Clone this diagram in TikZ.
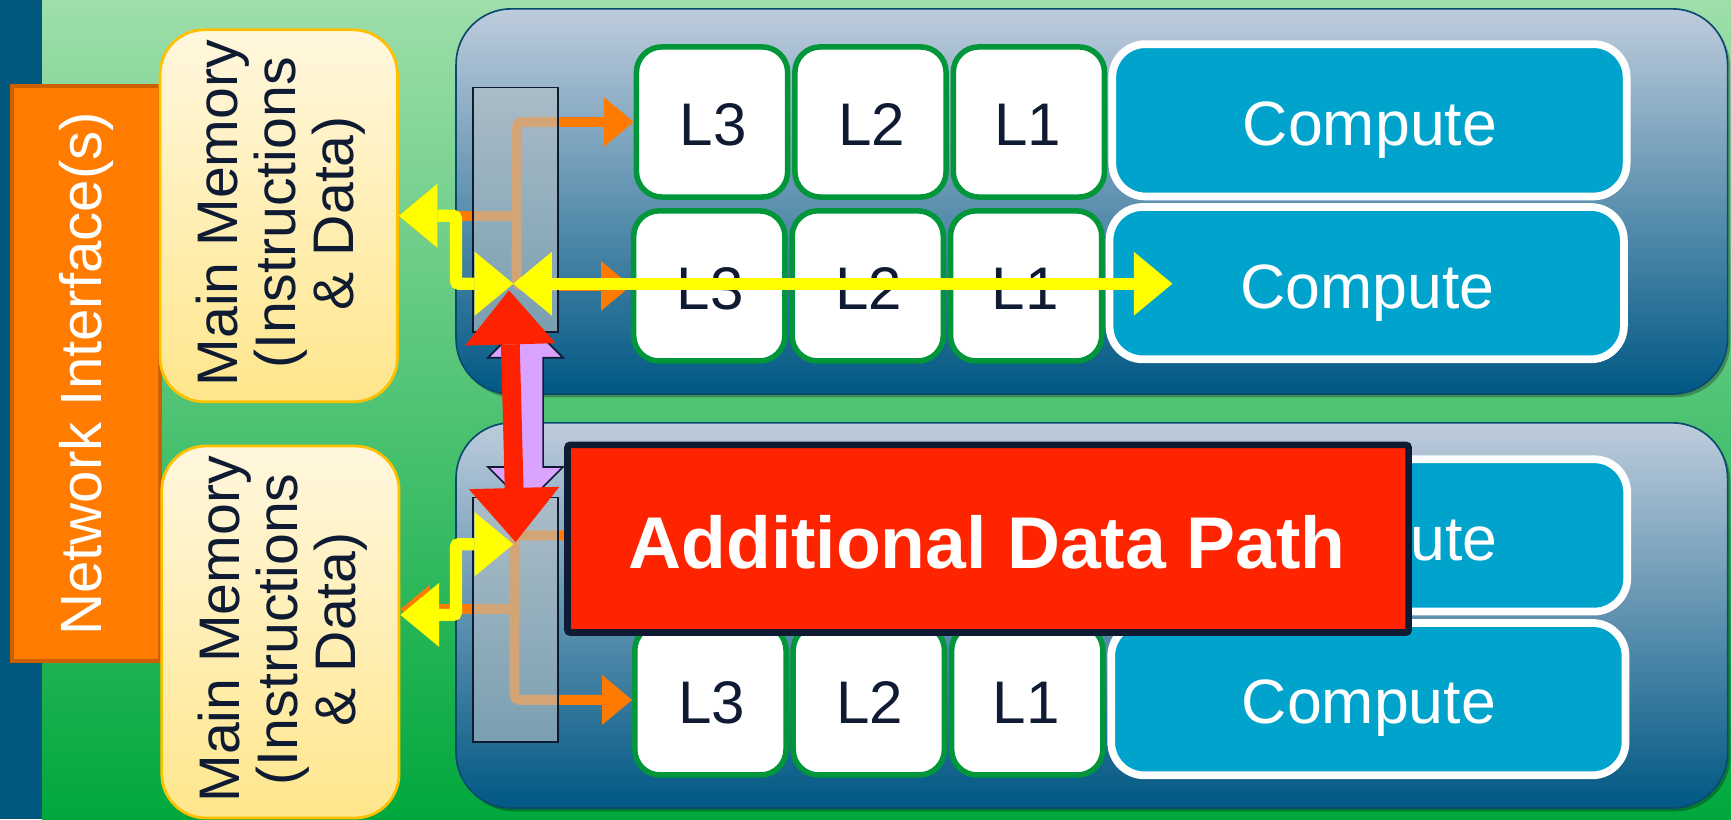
\documentclass[tikz,border=0pt]{standalone}
\usepackage{fontspec}
\setmainfont{Liberation Sans}
\usetikzlibrary{arrows.meta, shadows}

\definecolor{stripblue}{HTML}{02577F}
\definecolor{bgtop}{HTML}{9EDEAA}
\definecolor{bgbot}{HTML}{00A83C}
\definecolor{paneltop}{HTML}{BECCDC}
\definecolor{panelbot}{HTML}{005884}
\definecolor{panelline}{HTML}{0A4A70}
\definecolor{memtop}{HTML}{FFF7DE}
\definecolor{membot}{HTML}{FFE68C}
\definecolor{memline}{HTML}{FFC000}
\definecolor{nifill}{HTML}{FF7C00}
\definecolor{niline}{HTML}{CC5F00}
\definecolor{compfill}{HTML}{00A3CC}
\definecolor{cacheline}{HTML}{009639}
\definecolor{navy}{HTML}{0F1B33}
\definecolor{pathred}{HTML}{FF2400}
\definecolor{arrowred}{HTML}{FF2200}
\definecolor{lav}{HTML}{D9A3FF}
\definecolor{flow}{HTML}{FF7A00}
\definecolor{ylw}{HTML}{FFFF00}
\definecolor{barfill}{HTML}{B7C2C5}

\tikzset{
  Fh/.tip={Triangle[length=0.54cm,width=0.9cm,line width=0pt]},
  Yh/.tip={Triangle[length=0.7cm,width=1.16cm,line width=0pt]},
  Rh/.tip={Triangle[length=0.98cm,width=1.64cm,line width=0pt]},
  softshadow/.style={drop shadow={shadow xshift=0.05cm, shadow yshift=-0.06cm,
    opacity=0.28, fill=black}},
  panel/.style={draw=panelline, line width=0.03cm, rounded corners=1cm,
    top color=paneltop, bottom color=panelbot, softshadow,
    minimum width=23.04cm, minimum height=6.98cm, inner sep=0pt},
  membox/.style={draw=memline, line width=0.05cm, rounded corners=0.8cm,
    top color=memtop, bottom color=membot,
    minimum width=4.3cm, minimum height=6.74cm, inner sep=0pt},
  memtext/.style={rotate=90, align=center, text=navy, inner sep=0pt,
    font=\fontsize{29.5}{30}\selectfont},
  nibox/.style={draw=niline, line width=0.08cm, fill=nifill,
    minimum width=2.68cm, minimum height=10.42cm, inner sep=0pt},
  nitext/.style={rotate=90, text=white, inner sep=0pt,
    font=\fontsize{30}{30}\selectfont},
  cachebox/.style={draw=cacheline, line width=0.1cm, fill=white,
    rounded corners=0.46cm, minimum width=2.74cm, minimum height=2.72cm,
    inner sep=0pt},
  cachetext/.style={text=navy, inner sep=0pt, text depth=0pt,
    font=\fontsize{31}{31}\selectfont},
  compbox/.style={draw=white, line width=0.14cm, fill=compfill, softshadow,
    rounded corners=0.6cm, minimum width=9.32cm, minimum height=2.76cm,
    inner sep=0pt},
  comptext/.style={text=white, inner sep=0pt, text depth=0pt,
    font=\fontsize{32.3}{32}\selectfont},
  switchbar/.style={draw=navy, line width=0.03cm, fill=barfill,
    fill opacity=0.6, minimum width=1.55cm, minimum height=4.43cm,
    inner sep=0pt},
  flowline/.style={draw=flow, line width=0.18cm, rounded corners=0.1cm},
  yline/.style={draw=ylw, line width=0.22cm, rounded corners=0.05cm},
  rline/.style={draw=arrowred, line width=0.34cm},
  lavshape/.style={draw=navy, line width=0.03cm, fill=lav, line join=miter},
  pathbox/.style={draw=navy, line width=0.12cm, fill=pathred,
    rounded corners=0.05cm, minimum width=15.24cm, minimum height=3.4cm,
    inner sep=0pt},
  pathtext/.style={text=white, inner sep=0pt, text depth=0pt,
    font=\bfseries\fontsize{37.8}{38}\selectfont}
}

\begin{document}
\begin{tikzpicture}[x=0.02cm, y=-0.02cm]
\useasboundingbox (0,0) rectangle (1568,742);

% backdrop
\shade[top color=bgtop, bottom color=bgbot] (38,0) rectangle (1568,742);
\fill[stripblue] (0,0) rectangle (38,742);

% network interface and the two main memories
\node[nibox] (ni) at (78,338.5) {};
\node[nitext] (nit) at (ni.center) {Network Interface(s)};
\node[membox] (mem1) at (252.5,195.5) {};
\node[memtext] (mem1t) at (254,193) {Main Memory\\(Instructions\\\& Data)};
\node[membox] (mem2) at (254,572.5) {};
\node[memtext] (mem2t) at (256,570) {Main Memory\\(Instructions\\\& Data)};

% processor panels
\node[panel] (p1) at (989,182.5) {};
\node[panel] (p2) at (989,557.5) {};

% cache levels and cores, four rows
\node[cachebox] (a3) at (645,110.5) {};
\node[cachebox] (a2) at (788.5,110.5) {};
\node[cachebox] (a1) at (932,110.5) {};
\node[compbox]  (ac) at (1240.5,109) {};
\node[cachetext] (a3t) at (646,113) {L3};
\node[cachetext] (a2t) at (789.5,113) {L2};
\node[cachetext] (a1t) at (931,113) {L1};
\node[comptext]  (act) at (1241,112) {Compute};

\node[cachebox] (b3) at (642.5,259) {};
\node[cachebox] (b2) at (786,259) {};
\node[cachebox] (b1) at (929.5,259) {};
\node[compbox]  (bc) at (1238,256.5) {};
\node[cachetext] (b3t) at (643.5,261.5) {L3};
\node[cachetext] (b2t) at (787,261.5) {L2};
\node[cachetext] (b1t) at (928.5,261.5) {L1};
\node[comptext]  (bct) at (1238.5,259.5) {Compute};

\node[cachebox] (c3) at (643.5,485) {};
\node[cachebox] (c2) at (787,485) {};
\node[cachebox] (c1) at (930.5,485) {};
\node[compbox]  (cc) at (1241,485) {};
\node[comptext]  (cct) at (1241.5,488) {Compute};

\node[cachebox] (d3) at (643.5,634) {};
\node[cachebox] (d2) at (787,634) {};
\node[cachebox] (d1) at (930.5,634) {};
\node[compbox]  (dc) at (1239.5,633.3) {};
\node[cachetext] (d3t) at (644.5,636.5) {L3};
\node[cachetext] (d2t) at (788,636.5) {L2};
\node[cachetext] (d1t) at (929.5,636.5) {L1};
\node[comptext]  (dct) at (1240,636) {Compute};

% memory-to-cache flows
\coordinate (fa) at (468,195.5);
\coordinate (fb) at (468,259);
\coordinate (fc) at (466,552);
\coordinate (fd) at (466,634);
\draw[flowline, {Fh}-{Fh}] (a3.west) -| (fb) -- (b3.west);
\draw[flowline, -{Fh}] (fa) -- (mem1.east);
\draw[flowline, {Fh}-{Fh}] (c3.west) -| (fd) -- (d3.west);
\draw[flowline, -{Fh}] (fc) -- (mem2.east |- fc);

% switches
\node[switchbar] (sw1) at (467,190) {};
\node[switchbar] (sw2) at (467,561.5) {};

% direct paths
\coordinate (ja) at (465,257);
\coordinate (jb) at (465,493);
\coordinate (ya) at (413,257);
\coordinate (yb) at (413,493);
\coordinate (yc) at (413,557);
\coordinate (ct) at (1062,257);
\draw[yline, {Yh}-{Yh}] (mem1.east) -| (ya) -- (ja);
\draw[yline, {Yh}-{Yh}] (ja) -- (ct);
\draw[yline, {Yh}-{Yh}] (mem2.east |- yc) -| (yb) -- (jb);

% link between the two processors: outlined double arrow behind the red one
\coordinate (lv) at (476,373.5);
\draw[lavshape] (lv) ++(0,-83.5) -- ++(34,34) -- ++(-18,0) -- ++(0,99)
  -- ++(18,0) -- ++(-34,34) -- ++(-34,-34) -- ++(18,0) -- ++(0,-99)
  -- ++(-18,0) -- cycle;
\coordinate (ra) at (461,263);
\coordinate (rb) at (467,491);
\draw[rline, {Rh}-{Rh}] (ra) -- (rb);

\node[pathbox] (adp) at (895,488) {};
\node[pathtext] (adpt) at (894,491) {Additional Data Path};
\end{tikzpicture}
\end{document}
